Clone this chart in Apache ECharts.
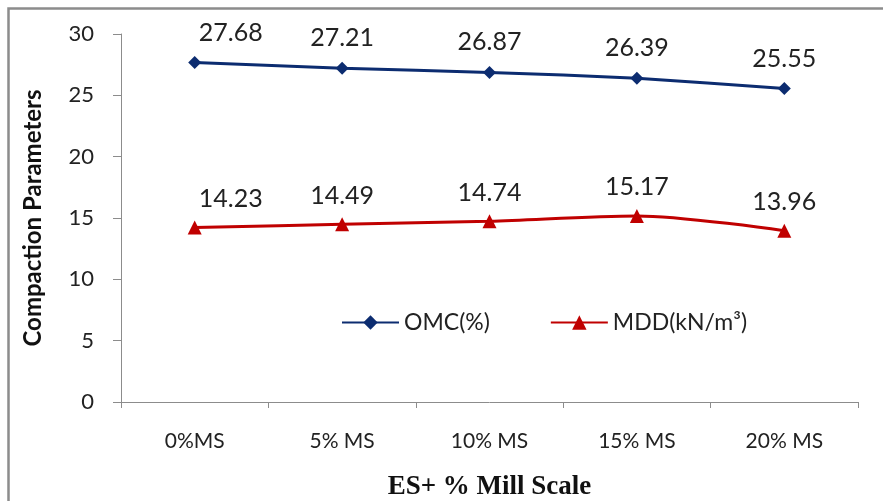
<!DOCTYPE html>
<html><head><meta charset="utf-8">
<script src="https://cdn.jsdelivr.net/npm/echarts@6/dist/echarts.min.js"></script>
<style>html,body{margin:0;padding:0;background:#fff}#c{width:883px;height:501px}</style>
</head><body><div id="c"></div>
<script>
const categories = ['0%MS', '5% MS', '10% MS', '15% MS', '20% MS'];
const omcValues = [27.68, 27.21, 26.87, 26.39, 25.55];
const mddValues = [14.23, 14.49, 14.74, 15.17, 13.96];
const seriesNames = ['OMC(%)', 'MDD(kN/m³)'];
const yTicks = { min: 0, max: 30, interval: 5 };
// horizontal nudge of each data label (first labels were moved right in the source)
const labelShift = [36, 0, 0, 0, 0];

const FONT = 'Lato';
const withLabels = (vals, dy) => vals.map((v, i) => ({ value: v, label: { offset: [labelShift[i], dy] } }));

const chart = echarts.init(document.getElementById('c'), null, { renderer: 'canvas' });
chart.setOption({
  backgroundColor: '#fff',
  animation: false,
  graphic: [{
    type: 'rect', shape: { x: 8.5, y: 8.5, width: 900, height: 520 },
    style: { fill: 'none', stroke: '#8c8c8c', lineWidth: 2.5 }, silent: true
  }],
  grid: { left: 121, right: 25, top: 34, bottom: 99, containLabel: false, outerBoundsMode: 'none' },
  legend: {
    left: 336, top: 306, itemWidth: 57, itemHeight: 18, itemGap: 60,
    textStyle: { fontFamily: FONT, fontSize: 23, color: '#222' },
    data: seriesNames
  },
  xAxis: {
    type: 'category', data: categories, boundaryGap: true,
    name: 'ES+ % Mill Scale', nameLocation: 'middle', nameGap: 72,
    nameTextStyle: { fontFamily: 'Liberation Serif', fontWeight: 'bold', fontSize: 27, color: '#111' },
    axisLine: { lineStyle: { color: '#8c8c8c', width: 1 } },
    axisTick: { show: true, length: 6, lineStyle: { color: '#8c8c8c' } },
    axisLabel: { margin: 29, fontFamily: FONT, fontSize: 21, color: '#222' },
    splitLine: { show: false }
  },
  yAxis: {
    type: 'value', min: yTicks.min, max: yTicks.max, interval: yTicks.interval,
    name: 'Compaction Parameters', nameLocation: 'middle', nameGap: 76,
    nameTextStyle: { fontFamily: FONT, fontWeight: 'bold', fontSize: 24, color: '#111' },
    axisLine: { show: true, lineStyle: { color: '#8c8c8c', width: 1 } },
    axisTick: { show: true, length: 8, lineStyle: { color: '#8c8c8c' } },
    axisLabel: { margin: 27, fontFamily: FONT, fontSize: 22, color: '#222' },
    splitLine: { show: false }
  },
  series: [
    {
      name: seriesNames[0], type: 'line', data: withLabels(omcValues, -6), smooth: 0.2,
      symbol: 'diamond', symbolSize: 13,
      lineStyle: { color: '#0c2c70', width: 3 },
      itemStyle: { color: '#0c2c70' },
      label: { show: true, position: 'top', distance: 5,
        fontFamily: FONT, fontSize: 25, color: '#222' }
    },
    {
      name: seriesNames[1], type: 'line', data: withLabels(mddValues, -4), smooth: 0.3,
      symbol: 'triangle', symbolSize: 14,
      lineStyle: { color: '#c00000', width: 3 },
      itemStyle: { color: '#c00000' },
      label: { show: true, position: 'top', distance: 5,
        fontFamily: FONT, fontSize: 25, color: '#222' }
    }
  ]
});
</script></body></html>
